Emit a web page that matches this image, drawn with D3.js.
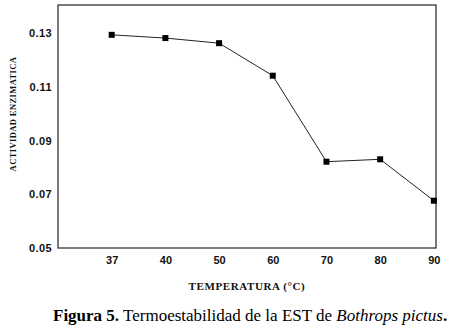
<!DOCTYPE html>
<html>
<head>
<meta charset="utf-8">
<script src="https://cdn.jsdelivr.net/npm/d3@7"></script>
<style>
  body { margin: 0; background: #fff; }
  svg { display: block; }
</style>
</head>
<body>
<div id="chart"></div>
<script>
let temps = ["37", "40", "50", "60", "70", "80", "90"];
let actividad = [0.1293, 0.1281, 0.1262, 0.1141, 0.0821, 0.0830, 0.0676];
let yTicks = [0.05, 0.07, 0.09, 0.11, 0.13];

let width = 450,
    height = 331,
    margin = ({ top: 5, right: 14, bottom: 83, left: 58 });

const svg = d3.select("#chart")
  .append("svg")
  .attr("width", width)
  .attr("height", height)
  .attr("viewBox", [0, 0, width, height]);

// categories sit on an index scale, with one empty step before 37
let x = d3.scaleLinear()
  .domain([0, temps.length + 0.04])
  .range([margin.left, width - margin.right]);

let y = d3.scaleLinear()
  .domain([0.05, 0.1404])
  .range([height - margin.bottom, margin.top]);

let plotTop = y.range()[1], plotBottom = y.range()[0];

// frame
svg.append("rect")
  .attr("x", margin.left)
  .attr("y", plotTop)
  .attr("width", x.range()[1] - margin.left)
  .attr("height", plotBottom - plotTop)
  .attr("fill", "none")
  .attr("stroke", "#333")
  .attr("stroke-width", 1.3);

// y axis labels
svg.append("g")
  .attr("transform", `translate(${margin.left},0)`)
  .call(d3.axisLeft(y).tickValues(yTicks).tickSize(0).tickPadding(6).tickFormat(d3.format(".2f")))
  .call(g => g.select(".domain").remove())
  .call(g => g.selectAll("text")
    .attr("font-family", "Liberation Sans, Arial, sans-serif")
    .attr("font-weight", "bold")
    .attr("font-size", 11)
    .attr("letter-spacing", 0.4)
    .attr("fill", "#111"));

// x axis labels
svg.append("g")
  .attr("transform", `translate(0,${plotBottom})`)
  .call(d3.axisBottom(d3.scaleOrdinal().domain(temps).range(temps.map((d, i) => x(i + 1))))
    .tickSize(0).tickPadding(8))
  .call(g => g.select(".domain").remove())
  .call(g => g.selectAll("text")
    .attr("font-family", "Liberation Sans, Arial, sans-serif")
    .attr("font-weight", "bold")
    .attr("font-size", 11)
    .attr("fill", "#111"));

let line = d3.line()
  .x((d, i) => x(i + 1))
  .y(d => y(d));

svg.append("path")
  .datum(actividad)
  .attr("fill", "none")
  .attr("stroke", "#222")
  .attr("stroke-width", 1)
  .attr("d", line);

svg.selectAll(".pt")
  .data(actividad)
  .join("rect")
  .attr("class", "pt")
  .attr("x", (d, i) => x(i + 1) - 3)
  .attr("y", d => y(d) - 3)
  .attr("width", 6)
  .attr("height", 6)
  .attr("fill", "#000");

// axis titles
svg.append("text")
  .attr("x", (margin.left + x.range()[1]) / 2)
  .attr("y", 289.5)
  .attr("text-anchor", "middle")
  .attr("font-family", "Liberation Serif, Times New Roman, serif")
  .attr("font-weight", "bold")
  .attr("font-size", 11)
  .attr("letter-spacing", 0.6)
  .attr("fill", "#111")
  .text("TEMPERATURA (°C)");

svg.append("text")
  .attr("transform", "translate(15.5,114) rotate(-90)")
  .attr("text-anchor", "middle")
  .attr("font-family", "Liberation Serif, Times New Roman, serif")
  .attr("font-weight", "bold")
  .attr("font-size", 8.5)
  .attr("letter-spacing", 0.4)
  .attr("fill", "#111")
  .text("ACTIVIDAD ENZIMATICA");

// caption
let cap = svg.append("text")
  .attr("x", 53)
  .attr("y", 321)
  .attr("font-family", "Liberation Serif, Times New Roman, serif")
  .attr("font-size", 17)
  .attr("fill", "#000");
cap.append("tspan").attr("font-weight", "bold").text("Figura 5.");
cap.append("tspan").text(" Termoestabilidad de la EST de ");
cap.append("tspan").attr("font-style", "italic").text("Bothrops pictus");
cap.append("tspan").attr("font-weight", "bold").text(".");
</script>
</body>
</html>
